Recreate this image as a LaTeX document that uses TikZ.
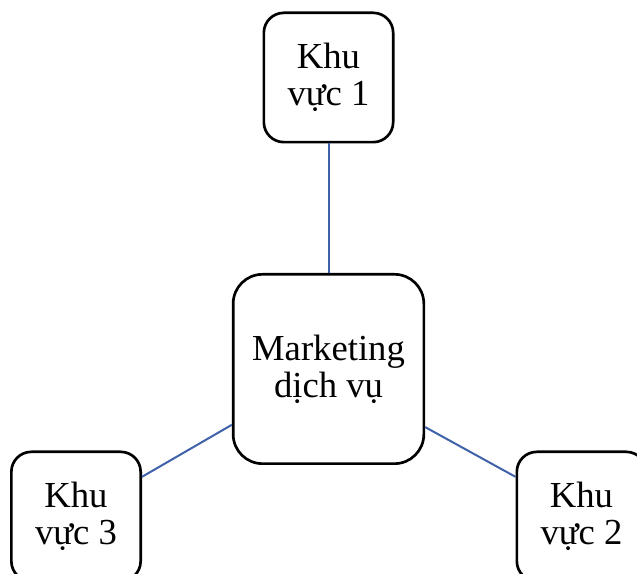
\documentclass[tikz,border=0pt]{standalone}
\usepackage{fontspec}
\setmainfont{Liberation Serif}
\definecolor{linkblue}{RGB}{64,98,170}
\tikzset{
  box/.style={draw=black, line width=2pt, fill=white, align=center,
    inner sep=0pt, font=\fontsize{27.5}{28}\selectfont},
  smallbox/.style={box, rounded corners=15pt, minimum width=97pt, minimum height=97pt},
  bigbox/.style={box, rounded corners=22pt, minimum width=143pt, minimum height=142pt},
  link/.style={draw=linkblue, line width=1.5pt}
}
\begin{document}
\begin{tikzpicture}[x=0.75pt, y=-0.75pt]
  \useasboundingbox (0,0) rectangle (637,574);
  \clip (0,0) rectangle (637,574);
  \fill[white] (0,0) rectangle (637,574);
  \node[bigbox] (center) at (328.5,369) {Marketing\\dịch vụ};
  \node[smallbox] (k1) at (328.5,77.5) {Khu\\vực 1};
  \node[smallbox] (k3) at (76,516.5) {Khu\\vực 3};
  \node[smallbox] (k2) at (581.5,516.5) {Khu\\vực 2};
  \draw[link] (k1.south) -- (center.north);
  \draw[link] (center.210.4) -- (k3.31);
  \draw[link] (center.329.6) -- (k2.149.2);
\end{tikzpicture}
\end{document}
